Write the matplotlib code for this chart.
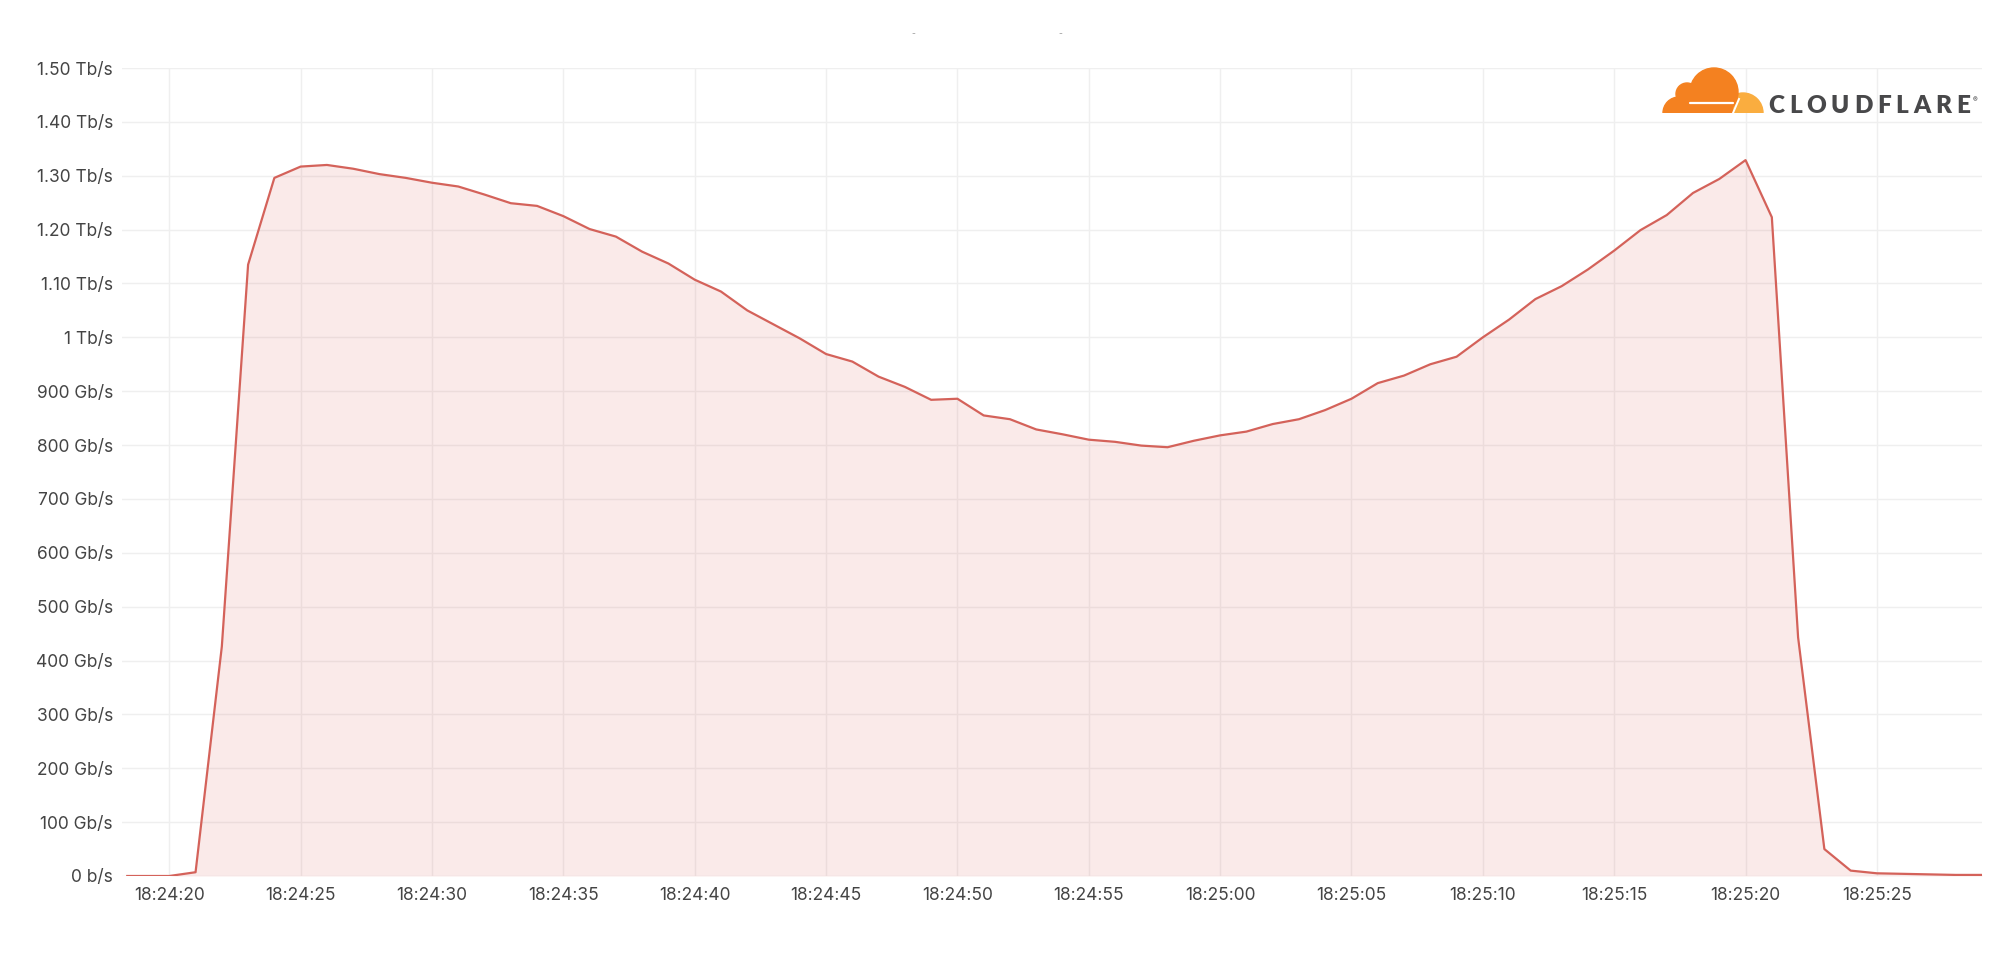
import matplotlib
matplotlib.use("Agg")
import matplotlib.pyplot as plt
from matplotlib.patches import Circle, Wedge, Rectangle
from matplotlib.ticker import FuncFormatter, MultipleLocator

# seconds relative to 18:24:20, one sample per second
seconds = [-1.6, -1, 0, 1, 2, 3, 4, 5, 6, 7, 8, 9, 10, 11, 12, 13, 14, 15, 16, 17, 18, 19,
           20, 21, 22, 23, 24, 25, 26, 27, 28, 29, 30, 31, 32, 33, 34, 35, 36, 37, 38, 39,
           40, 41, 42, 43, 44, 45, 46, 47, 48, 49, 50, 51, 52, 53, 54, 55, 56, 57, 58, 59,
           60, 61, 62, 63, 64, 65, 66, 67, 68, 69]
# traffic in Gb/s
trafficGbps = [0, 0, 0, 7, 426, 1135, 1296, 1317, 1320, 1313, 1303, 1296, 1287, 1280, 1265,
               1249, 1244, 1225, 1201, 1187, 1159, 1137, 1107, 1085, 1050, 1024, 998, 969,
               955, 927, 908, 884, 886, 855, 848, 829, 820, 810, 806, 799, 796, 808, 818,
               825, 839, 848, 865, 886, 915, 929, 950, 964, 1000, 1033, 1071, 1095, 1126,
               1161, 1199, 1227, 1268, 1294, 1329, 1223, 443, 50, 10, 5, 4, 3, 2, 2]
baseTime = (18, 24, 20)

W, H = 1999, 965
fig = plt.figure(figsize=(W / 100, H / 100), dpi=100)
plt.rcParams['font.family'] = ['Inter', 'DejaVu Sans']

ax = fig.add_axes([122 / W, 1 - 876 / H, (1982 - 122) / W, (876 - 68) / H])
lineColor = '#d4625a'
ax.fill_between(seconds, trafficGbps, 0, color='#d9534f', alpha=0.12, lw=0)
ax.plot(seconds, trafficGbps, color=lineColor, lw=1.6)

ax.set_xlim(-1.8, 69)
ax.set_ylim(0, 1500)


def timeLabel(v, pos):
    total = baseTime[0] * 3600 + baseTime[1] * 60 + baseTime[2] + int(round(v))
    return "%02d:%02d:%02d" % (total // 3600, (total // 60) % 60, total % 60)


def rateLabel(v, pos):
    v = int(round(v))
    if v == 0:
        return "0 b/s"
    if v < 1000:
        return "%d Gb/s" % v
    if v == 1000:
        return "1 Tb/s"
    return "%.2f Tb/s" % (v / 1000)


ax.xaxis.set_major_locator(MultipleLocator(5))
ax.xaxis.set_major_formatter(FuncFormatter(timeLabel))
ax.yaxis.set_major_locator(MultipleLocator(100))
ax.yaxis.set_major_formatter(FuncFormatter(rateLabel))

ax.grid(True, color='#efefef', lw=1)
ax.set_axisbelow(True)
for s in ax.spines.values():
    s.set_visible(False)
ax.tick_params(axis='both', length=0, labelsize=12.5, labelcolor='#444444')
ax.tick_params(axis='y', pad=6.5)
ax.tick_params(axis='x', pad=8)

# leftovers of a cut off title
fig.text(913 / W, 1 - 34 / H, '-', fontsize=6, color='#999999', ha='center', va='center')
fig.text(1060 / W, 1 - 34 / H, '-', fontsize=6, color='#999999', ha='center', va='center')

# cloudflare logo, drawn in pixel coords (y up)
logo = fig.add_axes([1655 / W, 840 / H, 115 / W, 65 / H])
logo.set_xlim(1655, 1770)
logo.set_ylim(840, 905)
logo.axis('off')
dark = '#f48120'
light = '#faad3f'
base = 852
clipBox = Rectangle((1655, base), 115, 60, transform=logo.transData)
shapes = [
    Wedge((1743, base), 20, 0, 180, color=light),
    Circle((1714, 873), 24, color=dark),
    Circle((1687, 871), 11, color=dark),
    Wedge((1679, base), 16, 90, 180, color=dark),
    Rectangle((1679, base), 53, 18, color=dark),
]
for p in shapes:
    logo.add_patch(p)
    p.set_clip_path(clipBox)
logo.plot([1690, 1733], [862, 862], color='white', lw=1.6, solid_capstyle='round')
logo.plot([1733, 1739], [852, 866], color='white', lw=1.4)

# spaced letters of the wordmark
word = "CLOUDFLARE"
renderer = fig.canvas.get_renderer()
letters = []
widths = []
for ch in word:
    t = fig.text(0, 1 - 113 / H, ch, fontsize=17.5, fontweight='heavy', color='#48484a',
                 va='baseline', ha='left', family=['Lato', 'DejaVu Sans'])
    letters.append(t)
    widths.append(t.get_window_extent(renderer).width)
startX, endX = 1768, 1970
gap = (endX - startX - sum(widths)) / (len(word) - 1)
x = startX
for t, w in zip(letters, widths):
    t.set_x(x / W)
    x += w + gap
fig.text(1975 / W, 1 - 100 / H, '®', fontsize=5, color='#48484a', ha='center', va='center')

fig.savefig('out.png', dpi=100)
